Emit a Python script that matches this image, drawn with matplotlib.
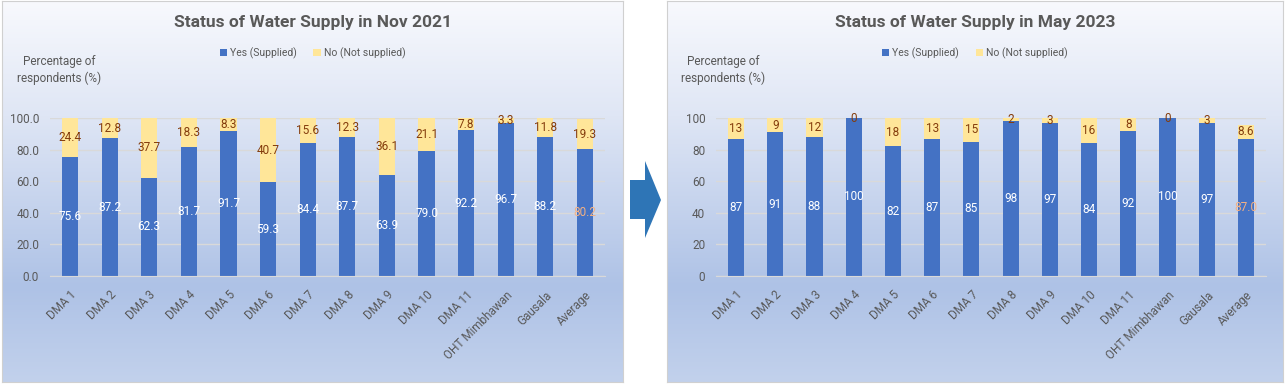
import numpy as np
import matplotlib.pyplot as plt
from matplotlib.colors import LinearSegmentedColormap
from matplotlib.patches import Polygon

categories = ['DMA 1', 'DMA 2', 'DMA 3', 'DMA 4', 'DMA 5', 'DMA 6', 'DMA 7',
              'DMA 8', 'DMA 9', 'DMA 10', 'DMA 11', 'OHT Mimbhawan', 'Gausala', 'Average']

nov_yes = [75.6, 87.2, 62.3, 81.7, 91.7, 59.3, 84.4, 87.7, 63.9, 79.0, 92.2, 96.7, 88.2, 80.2]
nov_no = [24.4, 12.8, 37.7, 18.3, 8.3, 40.7, 15.6, 12.3, 36.1, 21.1, 7.8, 3.3, 11.8, 19.3]

may_yes = [87, 91, 88, 100, 82, 87, 85, 98, 97, 84, 92, 100, 97, 87.0]
may_no = [13, 9, 12, 0, 18, 13, 15, 2, 3, 16, 8, 0, 3, 8.6]

nov_yes_lbl = ['%.1f' % v for v in nov_yes]
nov_no_lbl = ['%.1f' % v for v in nov_no]
may_yes_lbl = ['87', '91', '88', '100', '82', '87', '85', '98', '97', '84', '92', '100', '97', '87.0']
may_no_lbl = ['13', '9', '12', '0', '18', '13', '15', '2', '3', '16', '8', '0', '3', '8.6']

nov_ticks = ['0.0', '20.0', '40.0', '60.0', '80.0', '100.0']
may_ticks = ['0', '20', '40', '60', '80', '100']

W, H = 1285, 384
BLUE = '#4472C4'
YELLOW = '#FFE699'
NO_TXT = '#843C0C'
GRAY = '#595959'
plt.rcParams['font.family'] = ['Roboto', 'DejaVu Sans']

fig = plt.figure(figsize=(W / 100, H / 100), dpi=100)
fig.patch.set_facecolor('white')

grad = LinearSegmentedColormap.from_list('bg', [(0, '#f8f9fd'), (0.3, '#dfe6f5'),
                                                (0.75, '#aec2e6'), (1.0, '#c2d1ec')])


def fx(px):
    return px / W


def fy(py):
    return 1 - py / H


def panel(x0, x1, title, yes, no, yes_lbl, no_lbl, ticks, ax_x0, ax_x1, ylab_x):
    # panel background with gradient
    bg = fig.add_axes([fx(x0), fy(382), fx(x1 - x0), (382 - 1) / H])
    bg.imshow(np.linspace(0, 1, 256).reshape(-1, 1), aspect='auto', cmap=grad,
              extent=[0, 1, 0, 1], origin='upper')
    bg.set_xticks([])
    bg.set_yticks([])
    for s in bg.spines.values():
        s.set_color('#d0d0d0')
    bg.set_zorder(0)

    ax = fig.add_axes([fx(ax_x0), fy(276), fx(ax_x1 - ax_x0), (276 - 118) / H])
    ax.set_zorder(1)
    ax.patch.set_alpha(0)
    x = np.arange(len(categories))
    ax.bar(x, yes, width=0.41, color=BLUE, label='Yes (Supplied)', zorder=2)
    ax.bar(x, no, width=0.41, bottom=yes, color=YELLOW, label='No (Not supplied)', zorder=2)
    for i in range(len(x)):
        c = '#F4B183' if i == len(x) - 1 else 'white'
        ax.text(x[i], yes[i] / 2, yes_lbl[i], ha='center', va='center', color=c, fontsize=8.5, zorder=3)
        ax.text(x[i], yes[i] + no[i] / 2, no_lbl[i], ha='center', va='center', color=NO_TXT,
                fontsize=8.5, zorder=3)
    ax.set_xlim(-0.5, len(x) - 0.5)
    ax.set_ylim(0, 100)
    ax.set_yticks(range(0, 101, 20))
    ax.set_yticklabels(ticks, color=GRAY, fontsize=8.5)
    ax.set_xticks(x)
    ax.set_xticklabels(categories, rotation=45, ha='right', va='top', rotation_mode='anchor',
                       color=GRAY, fontsize=8.5)
    ax.tick_params(axis='y', length=0, pad=8)
    ax.tick_params(axis='x', length=0, pad=9)
    ax.grid(axis='y', color='#d9d9d9', linewidth=1, zorder=1)
    for s in ['top', 'right', 'left']:
        ax.spines[s].set_visible(False)
    ax.spines['bottom'].set_color('#d9d9d9')
    ax.set_axisbelow(True)

    cx = (x0 + x1) / 2
    fig.text(fx(cx), fy(22), title, ha='center', va='center', fontsize=12.5,
             fontweight='bold', color=GRAY)
    fig.text(fx(ylab_x), fy(70), 'Percentage of\nrespondents (%)', ha='center', va='center',
             fontsize=8.5, color=GRAY, linespacing=1.35)
    ax.legend(loc='center', bbox_to_anchor=(fx(cx), fy(53)), bbox_transform=fig.transFigure,
              ncol=2, frameon=False, fontsize=7.5, handlelength=0.7, handleheight=0.7,
              handletextpad=0.3, columnspacing=1.6, labelcolor=GRAY)


panel(2, 623, 'Status of Water Supply in Nov 2021', nov_yes, nov_no, nov_yes_lbl, nov_no_lbl,
      nov_ticks, 50.2, 604.8, 59)
panel(667, 1283, 'Status of Water Supply in May 2023', may_yes, may_no, may_yes_lbl, may_no_lbl,
      may_ticks, 716.4, 1265.6, 723)

# arrow between the two panels
arr = Polygon([(fx(630), fy(180)), (fx(645), fy(180)), (fx(645), fy(161)), (fx(661), fy(200)),
               (fx(645), fy(238)), (fx(645), fy(219)), (fx(630), fy(219))],
              closed=True, transform=fig.transFigure, facecolor='#2E75B6', edgecolor='none')
fig.patches.append(arr)

fig.savefig('out.png', dpi=100)
